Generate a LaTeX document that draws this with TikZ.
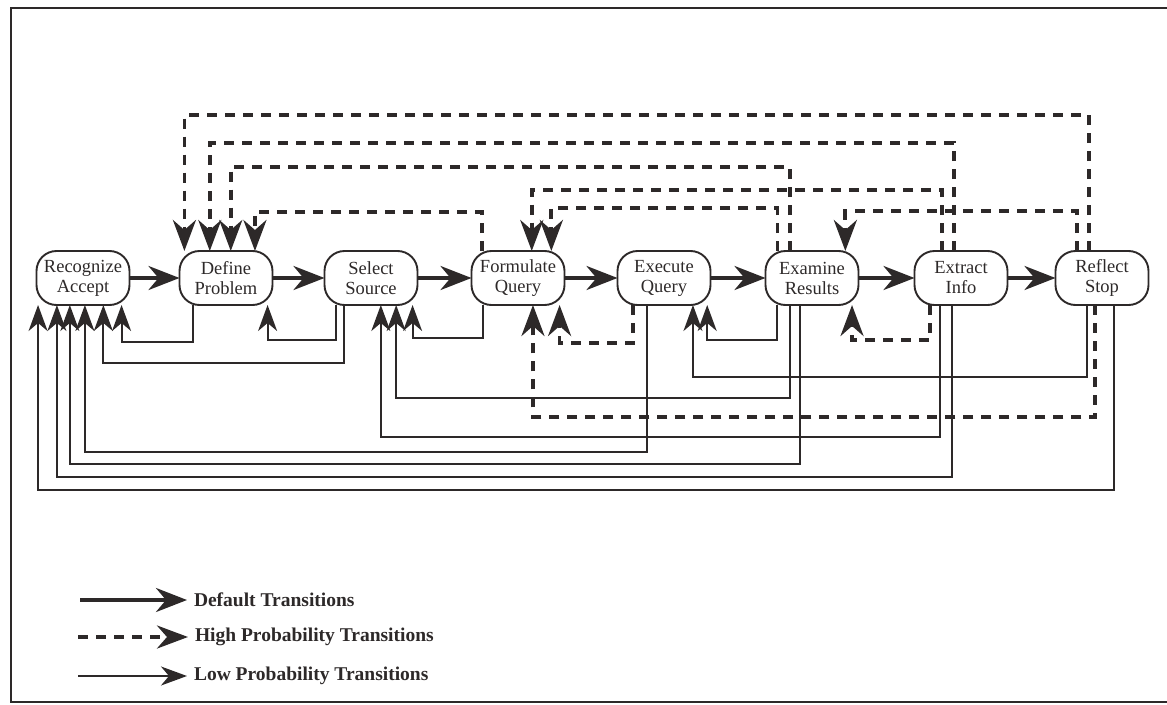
\documentclass[tikz,border=0pt]{standalone}
\usepackage{fontspec}
\setmainfont{Liberation Serif}
\usetikzlibrary{arrows.meta}
\definecolor{ink}{RGB}{45,41,41}

\begin{document}
\begin{tikzpicture}[x=1pt, y=-1pt, color=ink,
    stage/.style={draw, rectangle, rounded corners=20pt, minimum width=93pt, minimum height=54pt,
        inner sep=0pt, outer sep=0pt, line width=1.9pt, align=center, font=\fontsize{18.5}{20}\selectfont},
    df/.style={line width=3.8pt, -{Stealth[length=31pt, width=24pt, inset=10pt]}},
    hi/.style={line width=3.8pt, dash pattern=on 10pt off 8pt, -{Stealth[length=31pt, width=23pt, inset=10pt]}},
    lo/.style={line width=1.9pt, -{Stealth[length=26pt, width=19pt, inset=8pt]}},
    keytext/.style={anchor=west, inner xsep=7pt, inner ysep=0pt, outer sep=0pt, font=\fontsize{19.5}{20}\selectfont\bfseries}]
    \useasboundingbox (0, 0) rectangle (1167, 704);
    % \draw [step=50, gray, very thin] (0, 0) grid (1167, 704);
    \draw [line width=2.8pt] (1167, 8) -| (11, 702) -- (1167, 702);

    \node [stage] (ra) at (83, 278) {Recognize\\Accept};
    \node [stage] (dp) at (226, 278) {Define\\Problem};
    \node [stage] (ss) at (371, 278) {Select\\Source};
    \node [stage] (fq) at (518, 278) {Formulate\\Query};
    \node [stage] (eq) at (664, 278) {Execute\\Query};
    \node [stage] (er) at (812, 278) {Examine\\Results};
    \node [stage] (ei) at (961, 278) {Extract\\Info};
    \node [stage] (rs) at (1102, 278) {Reflect\\Stop};

    % default
    \draw [df] (ra.east) -- (dp.west);
    \draw [df] (dp.east) -- (ss.west);
    \draw [df] (ss.east) -- (fq.west);
    \draw [df] (fq.east) -- (eq.west);
    \draw [df] (eq.east) -- (er.west);
    \draw [df] (er.east) -- (ei.west);
    \draw [df] (ei.east) -- (rs.west);

    % high probability, over the top
    \draw [hi] (rs.116) -- (rs.116 |- 0, 115) -| (dp.147);
    \draw [hi] (ei.105) -- (ei.105 |- 0, 143) -| (dp.121);
    \draw [hi] (er.129) -- (er.129 |- 0, 167) -| (dp.80);
    \draw [hi] (fq.143) -- (fq.143 |- 0, 212) -| (dp.43);
    \draw [hi] (ei.125) -- (ei.125 |- 0, 190) -| (fq.63);
    \draw [hi] (er.142) -- (er.142 |- 0, 208) -| (fq.39);
    \draw [hi] (rs.133) -- (rs.133 |- 0, 211) -| (er.39);
    % high probability, underneath
    \draw [hi] (rs.256) -- (rs.256 |- 0, 417) -| (fq.299);
    \draw [hi] (eq.221) -- (eq.221 |- 0, 343) -| (fq.327);
    \draw [hi] (ei.221) -- (ei.221 |- 0, 340) -| (er.326);

    % low probability
    \draw [lo] (dp.219) -- (dp.219 |- 0, 342) -| (ra.325);
    \draw [lo] (ss.218) -- (ss.218 |- 0, 340) -| (dp.327);
    \draw [lo] (ss.225) -- (ss.225 |- 0, 363) -| (ra.307);
    \draw [lo] (fq.218) -- (fq.218 |- 0, 338) -| (ss.327);
    \draw [lo] (er.218) -- (er.218 |- 0, 340) -| (eq.328);
    \draw [lo] (rs.241) -- (rs.241 |- 0, 377) -| (eq.317);
    \draw [lo] (er.231) -- (er.231 |- 0, 398) -| (ss.313);
    \draw [lo] (ei.232) -- (ei.232 |- 0, 437) -| (ss.290);
    \draw [lo] (eq.238) -- (eq.238 |- 0, 452) -| (ra.274);
    \draw [lo] (er.246) -- (er.246 |- 0, 464) -| (ra.244);
    \draw [lo] (ei.252) -- (ei.252 |- 0, 477) -| (ra.226);
    \draw [lo] (rs.294) -- (rs.294 |- 0, 490) -| (ra.211);

    % key
    \coordinate (k1) at (80, 600);
    \coordinate (k2) at (78, 637);
    \coordinate (k3) at (78, 676);
    \node [keytext] (kdf) at (187, 600) {Default Transitions};
    \node [keytext] (khi) at (188, 637) {High Probability Transitions};
    \node [keytext] (klo) at (187, 676) {Low Probability Transitions};
    \draw [df] (k1) -- (kdf.west);
    \draw [hi] (k2) -- (khi.west);
    \draw [lo] (k3) -- (klo.west);
\end{tikzpicture}
\end{document}
